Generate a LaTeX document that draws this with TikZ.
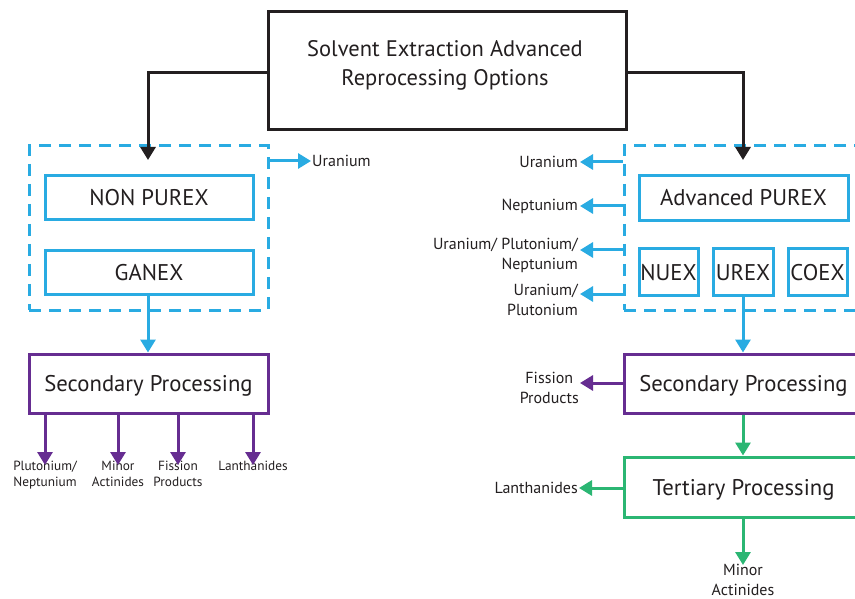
\documentclass[tikz,border=0pt]{standalone}
\usepackage{fontspec}
\setmainfont{PT Sans}
\usetikzlibrary{arrows.meta}
\definecolor{cblue}{HTML}{29ABE2}
\definecolor{cpurple}{HTML}{662D91}
\definecolor{cgreen}{HTML}{2BB673}
\definecolor{ctext}{HTML}{231F20}
\tikzset{
  box/.style={draw, line width=3pt, rectangle, inner sep=0pt, text=ctext, font=\fontsize{22.7}{26}\selectfont, align=center, text height=16pt, text depth=0pt},
  grp/.style={draw=cblue, line width=3pt, dash pattern=on 12pt off 8pt, rectangle, inner sep=0pt},
  conn/.style={line width=3pt, -{Triangle[length=13pt,width=15pt]}},
  lbl/.style={text=ctext, font=\fontsize{16}{20}\selectfont, inner sep=1pt, align=right},
  slbl/.style={text=ctext, font=\fontsize{13.3}{16}\selectfont, inner sep=0pt, align=center},
}
\begin{document}
\begin{tikzpicture}[x=1pt,y=-1pt]
\clip (0,0) rectangle (855,599);
\fill[white] (0,0) rectangle (855,599);
% top
\node[box, draw=ctext, minimum width=358pt, minimum height=118pt] (top) at (447,71) {};
\node[text=ctext, font=\fontsize{22.5}{29}\selectfont, align=center, inner sep=0pt] (toptxt) at (445,65) {Solvent Extraction Advanced\\Reprocessing Options};
% groups
\node[grp, minimum width=239pt, minimum height=164pt] (lgrp) at (148.5,228) {};
\node[grp, minimum width=239pt, minimum height=164pt] (rgrp) at (743.5,228) {};
\coordinate (lin) at (148,160);
\coordinate (rin) at (743,160);
\draw[conn, draw=ctext] (top.west |- 0,73) -| (lin);
\draw[conn, draw=ctext] (top.east |- 0,73) -| (rin);
% left boxes
\node[box, draw=cblue, minimum width=208pt, minimum height=44pt] (npx) at (149,198) {NON PUREX};
\node[box, draw=cblue, minimum width=208pt, minimum height=44pt] (ganex) at (149,272.5) {GANEX};
% right boxes
\node[box, draw=cblue, minimum width=209pt, minimum height=45pt] (apx) at (743.5,198) {Advanced PUREX};
\node[box, draw=cblue, minimum width=59pt, minimum height=46pt] (nuex) at (668.5,272) {NUEX};
\node[box, draw=cblue, minimum width=60pt, minimum height=46pt] (urex) at (743,272) {UREX};
\node[box, draw=cblue, minimum width=59pt, minimum height=46pt] (coex) at (817.5,272) {COEX};
% secondary / tertiary
\node[box, draw=cpurple, minimum width=239pt, minimum height=59pt] (secl) at (148.5,383.5) {Secondary Processing};
\node[box, draw=cpurple, minimum width=239pt, minimum height=59pt] (secr) at (743.5,383.5) {Secondary Processing};
\node[box, draw=cgreen, minimum width=239pt, minimum height=60pt] (terr) at (743.5,487) {Tertiary Processing};
% left uranium
\node[lbl, anchor=west] (ul) at (311,161) {Uranium};
\draw[conn, draw=cblue] (lgrp.east |- ul) -- (ul.west);
% ganex to secondary
\draw[conn, draw=cblue] (ganex.south -| 148,0) -- (secl.north -| 148,0);
% left bottom outputs
\node[slbl, anchor=north] (o1) at (45,461) {Plutonium/\\Neptunium};
\node[slbl, anchor=north] (o2) at (118,461) {Minor\\Actinides};
\node[slbl, anchor=north] (o3) at (178,461) {Fission\\Products};
\node[slbl, anchor=north] (o4) at (253,461) {Lanthanides};
\foreach \o in {o1,o2,o3,o4}{
  \draw[conn, draw=cpurple] (secl.south -| \o) -- ([yshift=-4pt]\o.north);
}
% right outputs from group
\coordinate (r1) at (580,162);
\coordinate (r2) at (580,206);
\coordinate (r3) at (580,250);
\coordinate (r4) at (580,294);
\node[lbl, anchor=east] (rl1) at (579,162) {Uranium};
\node[lbl, anchor=east] (rl2) at (579,206) {Neptunium};
\node[lbl, anchor=east] (rl3) at (579,255) {Uranium/ Plutonium/\\Neptunium};
\node[lbl, anchor=east] (rl4) at (579,300) {Uranium/\\Plutonium};
\foreach \c in {r1,r2,r3,r4}{
  \draw[conn, draw=cblue] (rgrp.west |- \c) -- (\c);
}
% urex to secondary
\draw[conn, draw=cblue] (urex.south) -- (secr.north -| urex.south);
% fission products
\coordinate (fp) at (580,383);
\node[lbl, align=center, anchor=east] (fpl) at (580,388) {Fission\\Products};
\draw[conn, draw=cpurple] (secr.west |- fp) -- (fp);
% secondary to tertiary
\draw[conn, draw=cgreen] (secr.south -| 743,0) -- (terr.north -| 743,0);
% lanthanides
\node[lbl, anchor=east] (lan) at (579,488) {Lanthanides};
\draw[conn, draw=cgreen] (terr.west |- lan) -- (lan.east);
% minor actinides
\node[lbl, align=center, anchor=north] (ma) at (743,563) {Minor\\Actinides};
\draw[conn, draw=cgreen] (terr.south -| ma) -- ([yshift=-2pt]ma.north);
\end{tikzpicture}
\end{document}
